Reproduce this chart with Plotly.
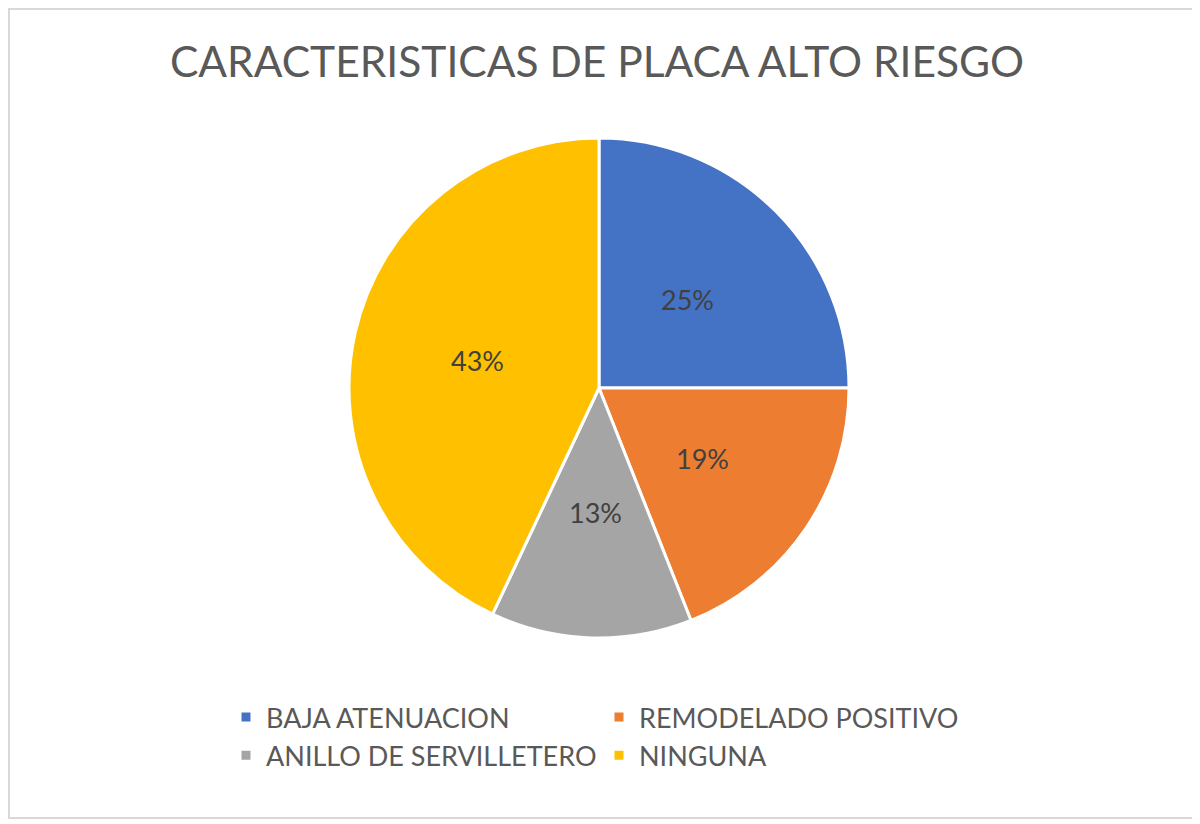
import math
import plotly.graph_objects as go

categorias = ['BAJA ATENUACION', 'REMODELADO POSITIVO', 'ANILLO DE SERVILLETERO', 'NINGUNA']
porcentajes = [25, 19, 13, 43]
colores = ['#4472C4', '#ED7D31', '#A5A5A5', '#FFC000']

W, H = 1200, 824
ML, MR = 150, 150
PW = W - ML - MR
# pie centre / radius in figure pixels
CX, CY, R = 591, 380, 250

fig = go.Figure(go.Pie(
    labels=categorias,
    values=porcentajes,
    sort=False,
    direction='clockwise',
    rotation=0,
    marker=dict(colors=colores, line=dict(color='white', width=3)),
    textinfo='none',
    hoverinfo='label+percent',
    domain=dict(x=[(CX - R - ML) / PW, (CX + R - ML) / PW],
                y=[1 - (CY + R) / H, 1 - (CY - R) / H]),
))

# percentage labels at half radius on each slice bisector (Excel style)
total = sum(porcentajes)
acum = 0
etiquetas = []
for v in porcentajes:
    ang = 2 * math.pi * (acum + v / 2) / total
    acum += v
    px_ = CX + 0.5 * R * math.sin(ang)
    py_ = CY - 0.5 * R * math.cos(ang)
    etiquetas.append(dict(
        text=f'{round(100 * v / total)}%', showarrow=False,
        xref='paper', yref='paper',
        x=(px_ - ML) / PW, y=1 - py_ / H,
        xanchor='center', yanchor='middle',
        font=dict(family='Lato', size=27, color='#404040'),
    ))

fig.update_layout(
    width=W, height=H,
    margin=dict(l=ML, r=MR, t=0, b=0),
    paper_bgcolor='white',
    plot_bgcolor='white',
    title=dict(text='CARACTERISTICAS DE PLACA ALTO RIESGO', x=589 / W, xanchor='center',
               y=1 - 54 / H, yanchor='middle', yref='container',
               font=dict(family='Lato', size=42.5, color='#595959')),
    legend=dict(orientation='h', x=(591 - ML) / PW, xanchor='center', y=1 - 685 / H, yanchor='top',
                entrywidth=328, entrywidthmode='pixels',
                font=dict(family='Lato', size=27, color='#595959'),
                tracegroupgap=0),
    annotations=etiquetas,
    shapes=[dict(type='rect', xref='paper', yref='paper',
                 x0=(1 - ML) / PW, x1=(1186 - ML) / PW,
                 y0=1 - 810 / H, y1=1 - 1 / H, line=dict(color='#D9D9D9', width=2))],
)

fig.write_html('out.html')
